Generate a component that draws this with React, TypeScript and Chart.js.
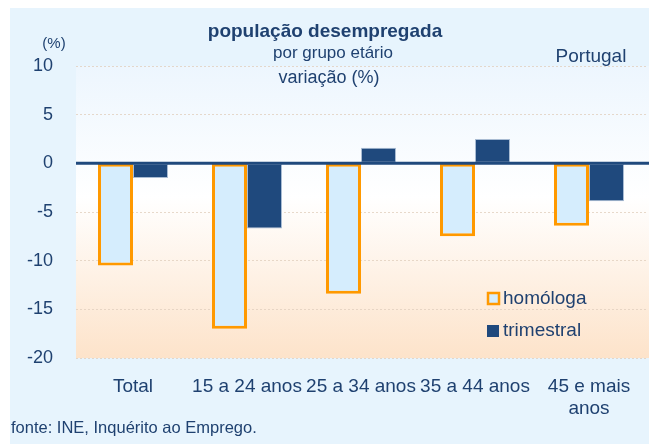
import React, { useEffect, useRef } from "react";
import { Chart, registerables } from "chart.js";

Chart.register(...registerables);

const categories: (string | string[])[] = ["Total", "15 a 24 anos", "25 a 34 anos", "35 a 44 anos", ["45 e mais", "anos"]];
const homologa = [-10.5, -17.0, -13.4, -7.5, -6.4];
const trimestral = [-1.5, -6.7, 1.6, 2.5, -3.9];
const legendLabels = ["homóloga", "trimestral"];
const titleLines = ["população desempregada", "por grupo etário", "variação (%)"];
const unitLabel = "(%)";
const regionLabel = "Portugal";
const sourceLabel = "fonte: INE, Inquérito ao Emprego.";

const TEXT = "#1F4170";
const FONT = "'Liberation Sans', Arial, sans-serif";
const ORANGE = "#FF9900";
const LIGHT = "#D5EDFD";
const NAVY = "#1F497D";

const decorPlugin = {
  id: "decor",
  beforeDatasetsDraw(chart: any) {
    const { ctx, chartArea } = chart;
    ctx.save();
    const g = ctx.createLinearGradient(0, chartArea.top, 0, chartArea.bottom);
    g.addColorStop(0, "#EDF6FE");
    g.addColorStop(0.45, "#FFFFFF");
    g.addColorStop(1, "#FDE3CA");
    ctx.globalCompositeOperation = "destination-over";
    ctx.fillStyle = g;
    ctx.fillRect(chartArea.left, chartArea.top, chartArea.right - chartArea.left + 3, chartArea.bottom - chartArea.top);
    ctx.restore();
  },
  afterDatasetsDraw(chart: any) {
    const { ctx, chartArea, scales } = chart;
    const y0 = scales.y.getPixelForValue(0);
    ctx.save();
    ctx.strokeStyle = NAVY;
    ctx.lineWidth = 3;
    ctx.beginPath();
    ctx.moveTo(chartArea.left, y0);
    ctx.lineTo(chartArea.right + 3, y0);
    ctx.stroke();

    ctx.fillStyle = TEXT;
    ctx.textBaseline = "middle";
    ctx.textAlign = "center";
    ctx.font = `bold 19px ${FONT}`;
    ctx.fillText(titleLines[0], 315, 24);
    ctx.font = `17px ${FONT}`;
    ctx.fillText(titleLines[1], 323, 45);
    ctx.font = `18px ${FONT}`;
    ctx.fillText(titleLines[2], 319, 70);
    ctx.font = `15px ${FONT}`;
    ctx.fillText(unitLabel, 44, 36);
    ctx.font = `19px ${FONT}`;
    ctx.fillText(regionLabel, 581, 49);

    ctx.textAlign = "left";
    ctx.font = `16.5px ${FONT}`;
    ctx.fillText(sourceLabel, 1, 420);

    // legend
    ctx.font = `19px ${FONT}`;
    ctx.fillStyle = LIGHT;
    ctx.fillRect(478, 285, 11, 11);
    ctx.strokeStyle = ORANGE;
    ctx.lineWidth = 2.5;
    ctx.strokeRect(478, 285, 11, 11);
    ctx.fillStyle = TEXT;
    ctx.fillText(legendLabels[0], 493, 291);
    ctx.fillStyle = NAVY;
    ctx.fillRect(477, 317, 12, 12);
    ctx.fillStyle = TEXT;
    ctx.fillText(legendLabels[1], 493, 323);
    ctx.restore();
  },
};

export default function App() {
  const ref = useRef<HTMLCanvasElement>(null);
  useEffect(() => {
    if (!ref.current) return;
    const chart = new Chart(ref.current, {
      type: "bar",
      data: {
        labels: categories,
        datasets: [
          {
            label: legendLabels[0],
            data: homologa,
            backgroundColor: LIGHT,
            borderColor: ORANGE,
            borderWidth: 3,
            borderSkipped: false,
            categoryPercentage: 0.614,
            barPercentage: 1,
          },
          {
            label: legendLabels[1],
            data: trimestral,
            backgroundColor: NAVY,
            borderColor: "#A9BCD3",
            borderWidth: 1,
            borderSkipped: false,
            categoryPercentage: 0.614,
            barPercentage: 1,
          },
        ],
      },
      options: {
        responsive: false,
        animation: false,
        layout: { padding: { top: 58, left: 0, right: 3, bottom: 0 } },
        plugins: { legend: { display: false }, tooltip: { enabled: false }, title: { display: false } },
        scales: {
          x: {
            grid: { display: false },
            border: { display: false },
            ticks: { color: TEXT, font: { family: FONT, size: 19, lineHeight: 1.2 }, padding: 9, maxRotation: 0, autoSkip: false },
            afterFit: (s: any) => { s.height = 86; },
          },
          y: {
            min: -20,
            max: 10,
            border: { display: false, dash: [2, 2] },
            grid: {
              drawTicks: false,
              color: (c: any) => (c.tick && c.tick.value === 0 ? "rgba(0,0,0,0)" : "rgba(225,208,190,0.8)"),
              lineWidth: 1,
            },
            ticks: { stepSize: 5, color: TEXT, font: { family: FONT, size: 18 }, padding: 23 },
            afterFit: (s: any) => { s.width = 66; },
          },
        },
      },
      plugins: [decorPlugin],
    } as any);
    return () => chart.destroy();
  }, []);
  return (
    <div style={{ position: "fixed", left: 10, top: 8, width: 639, height: 436, background: "#E7F4FD" }}>
      <canvas ref={ref} width={639} height={436} style={{ display: "block" }} />
    </div>
  );
}
